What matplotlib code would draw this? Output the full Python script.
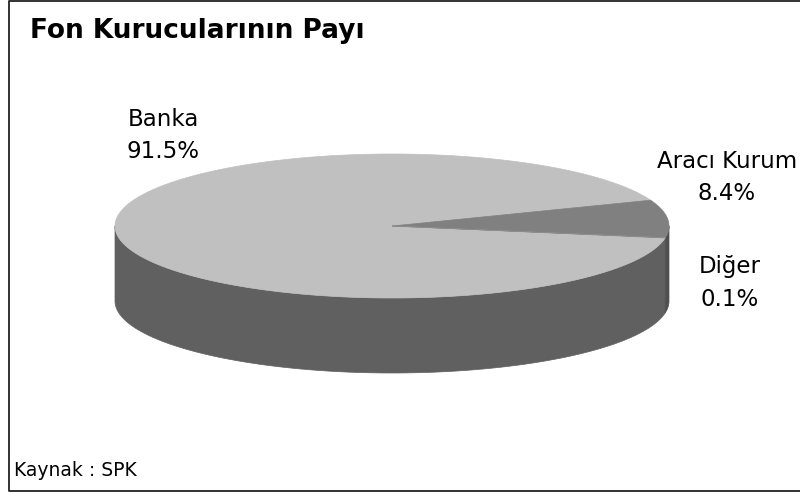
import numpy as np
import matplotlib.pyplot as plt
from matplotlib.patches import Polygon

# values
labels = ["Banka", "Aracı Kurum", "Diğer"]
values = [91.5, 8.4, 0.1]
top_colors = ["#c0c0c0", "#808080", "#8c8c8c"]
side_colors = ["#606060", "#4f4f4f", "#555555"]

title = "Fon Kurucularının Payı"
source = "Kaynak : SPK"

plt.rc('font', family='DejaVu Sans')
fig = plt.figure(figsize=(8, 4.92), dpi=100)
ax = fig.add_axes([0, 0, 1, 1])
ax.set_xlim(0, 800)
ax.set_ylim(492, 0)
ax.axis('off')

# frame (top, left, bottom; right edge is cut off in the original)
ax.plot([800, 8.5, 8.5, 800], [0.7, 0.7, 490.5, 490.5], color="#222222", lw=1.3)

# 3D pie geometry (pixel units)
cx, cy, rx, ry, depth = 392, 226, 277, 72, 75
start = 350.4  # degrees, slices run clockwise


def arc(lo, hi, dz=0, n=200):
    t = np.radians(np.linspace(lo, hi, n))
    return np.column_stack([cx + rx * np.cos(t), cy - ry * np.sin(t) + dz])


total = sum(values)
spans = []
a = start
for v in values:
    b = a - 360 * v / total
    spans.append((b, a))
    a = b

# side walls first
for (lo, hi), col in zip(spans, side_colors):
    for vlo, vhi in [(-180, 0), (180, 360)]:
        s, e = max(lo, vlo), min(hi, vhi)
        if e > s:
            top = arc(s, e)
            bot = arc(s, e, depth)[::-1]
            ax.add_patch(Polygon(np.vstack([top, bot]), closed=True,
                                 fc=col, ec=col, lw=0.5, zorder=1))

# top faces
for (lo, hi), col in zip(spans, top_colors):
    pts = np.vstack([[cx, cy], arc(lo, hi)])
    ax.add_patch(Polygon(pts, closed=True, fc=col, ec=col, lw=0.5, zorder=2))

# labels
label_pos = [(163, 136), (727, 177), (730, 283)]
for (x, y), lab, v in zip(label_pos, labels, values):
    ax.text(x, y, f"{lab}\n{v:.1f}%", ha="center", va="center",
            fontsize=16.5, linespacing=1.5, color="black")

ax.text(30, 31, title, fontsize=19, fontweight="bold", ha="left", va="center")
ax.text(14, 470, source, fontsize=13.5, ha="left", va="center")

fig.savefig("out.png", dpi=100)
